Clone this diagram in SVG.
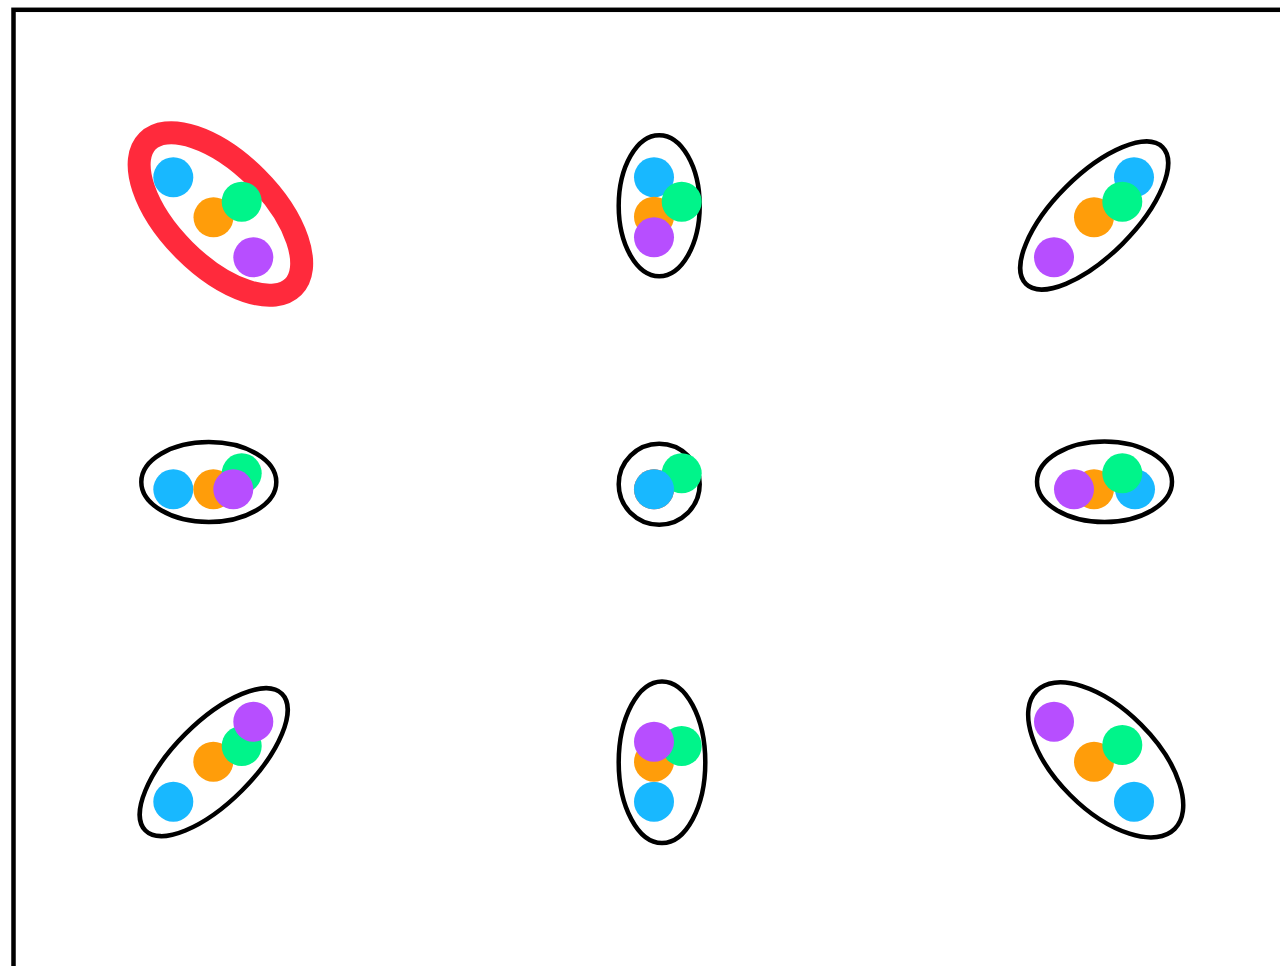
<svg xmlns="http://www.w3.org/2000/svg" width="1280" height="966" viewBox="0 0 1280 966">
<style>
.ring{fill:none;stroke:#000;stroke-width:4.5}
.hl{fill:none;stroke:#ff2a3c;stroke-width:23}
.b{fill:#18b8ff}.o{fill:#ff9d0a}.g{fill:#00f48a}.p{fill:#b74eff}
</style>
<rect width="1280" height="966" fill="#fff"/>
<rect x="13.5" y="9.8" width="1400" height="1100" fill="none" stroke="#000" stroke-width="4.5"/>
<g id="n1">
<ellipse class="hl" cx="220.4" cy="214" rx="103" ry="51" transform="rotate(45 220.4 214)"/>
<circle class="b" cx="173.3" cy="177.3" r="20"/><circle class="o" cx="213.5" cy="217.3" r="20"/><circle class="g" cx="241.7" cy="201.7" r="20"/><circle class="p" cx="253.3" cy="257.3" r="20"/>
</g>
<g id="n2">
<ellipse class="ring" cx="659.2" cy="205.8" rx="40.5" ry="70.5"/>
<circle class="b" cx="654" cy="177.3" r="20"/><circle class="o" cx="654" cy="216.7" r="20"/><circle class="p" cx="654" cy="237.3" r="20"/><circle class="g" cx="681.7" cy="201.7" r="20"/>
</g>
<g id="n3">
<ellipse class="ring" cx="1094.2" cy="215.5" rx="96.6" ry="40" transform="rotate(-45 1094.2 215.5)"/>
<circle class="p" cx="1054" cy="257.3" r="20"/><circle class="o" cx="1094" cy="217.3" r="20"/><circle class="b" cx="1134" cy="177.3" r="20"/><circle class="g" cx="1122.3" cy="201.7" r="20"/>
</g>
<g id="n4">
<ellipse class="ring" cx="208.8" cy="482" rx="67.5" ry="40"/>
<circle class="b" cx="173.3" cy="489.3" r="20"/><circle class="o" cx="213.3" cy="489.3" r="20"/><circle class="g" cx="241.7" cy="473.3" r="20"/><circle class="p" cx="233.3" cy="489.3" r="20"/>
</g>
<g id="n5">
<ellipse class="ring" cx="659.2" cy="484.2" rx="40.5" ry="40.5"/>
<circle class="p" cx="654" cy="489.3" r="20"/><circle class="o" cx="654" cy="489.3" r="20"/><circle class="g" cx="681.7" cy="473.3" r="20"/><circle class="b" cx="654" cy="489.3" r="20"/>
</g>
<g id="n6">
<ellipse class="ring" cx="1104.5" cy="481.7" rx="67.5" ry="40.3"/>
<circle class="o" cx="1094" cy="489.3" r="20"/><circle class="p" cx="1074" cy="489.3" r="20"/><circle class="b" cx="1135" cy="489.3" r="20"/><circle class="g" cx="1122.3" cy="473.3" r="20"/>
</g>
<g id="n7">
<ellipse class="ring" cx="213.7" cy="762.2" rx="96.6" ry="40" transform="rotate(-45 213.7 762.2)"/>
<circle class="b" cx="173.3" cy="801.7" r="20"/><circle class="o" cx="213.3" cy="761.7" r="20"/><circle class="g" cx="241.7" cy="746" r="20"/><circle class="p" cx="253.3" cy="721.7" r="20"/>
</g>
<g id="n8">
<ellipse class="ring" cx="662" cy="762.2" rx="43.3" ry="80.8"/>
<circle class="b" cx="654" cy="801.7" r="20"/><circle class="o" cx="654" cy="761.7" r="20"/><circle class="g" cx="681.7" cy="746" r="20"/><circle class="p" cx="654" cy="741.7" r="20"/>
</g>
<g id="n9">
<ellipse class="ring" cx="1105.7" cy="759.9" rx="97.6" ry="50" transform="rotate(45 1105.7 759.9)"/>
<circle class="p" cx="1054" cy="721.7" r="20"/><circle class="o" cx="1094" cy="761.7" r="20"/><circle class="g" cx="1122.3" cy="745" r="20"/><circle class="b" cx="1134" cy="801.7" r="20"/>
</g>
<g id="connectors"/>
</svg>
